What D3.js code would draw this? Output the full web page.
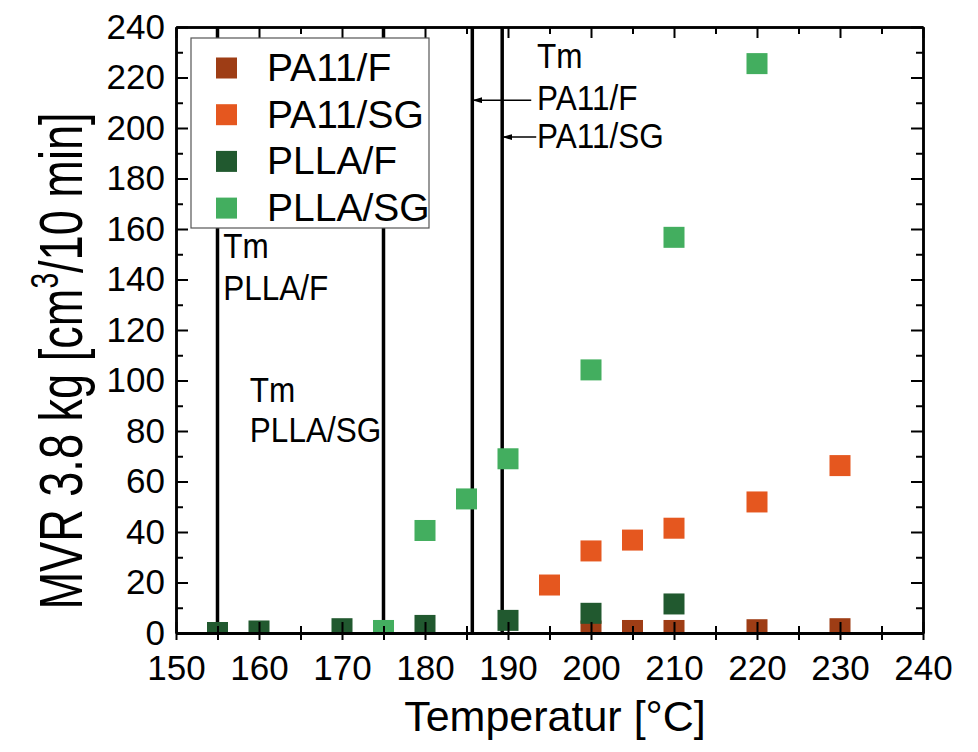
<!DOCTYPE html>
<html lang="de">
<head>
<meta charset="UTF-8">
<title>MVR vs Temperatur</title>
<script src="https://d3js.org/d3.v7.min.js"></script>
<style>
  body { margin: 0; background: #fff; }
  svg { display: block; font-family: 'Liberation Sans', Arial, sans-serif; }
</style>
</head>
<body>
<svg id="chart" width="978" height="752"></svg>
<script>
const seriesNames = ["PA11/F", "PA11/SG", "PLLA/F", "PLLA/SG"];
const seriesColors = ["#9e3d15", "#e5571f", "#21592f", "#43ae5f"];

const pa11fTemp  = [200, 205, 210, 220, 230];
const pa11fMvr   = [0.8, 1.0, 1.0, 1.3, 1.7];
const pa11sgTemp = [195, 200, 205, 210, 220, 230];
const pa11sgMvr  = [19.0, 32.5, 36.8, 41.5, 51.9, 66.3];
const pllafTemp  = [155, 160, 170, 180, 190, 200, 210];
const pllafMvr   = [0.2, 0.8, 1.7, 3.0, 5.0, 7.8, 11.5];
const pllasgTemp = [175, 180, 185, 190, 200, 210, 220];
const pllasgMvr  = [1.0, 40.6, 53.1, 69.0, 104.2, 156.7, 225.5];

// Schmelztemperaturen
const tmLines = [155, 175, 185.7, 189.3];

const xMajorTicks = d3.range(150, 241, 10);
const xMinorTicks = d3.range(155, 240, 10);
const yMajorTicks = d3.range(0, 241, 20);
const yMinorTicks = d3.range(10, 240, 20);

// Beschriftungen der Tm-Linien: [temp, wert, text]
const tmLabels = [
  [155.7, 148.5, "Tm"], [155.7, 131.9, "PLLA/F"],
  [158.9, 91.5, "Tm"], [158.9, 75.6, "PLLA/SG"],
  [193.5, 223.8, "Tm"], [193.5, 207.1, "PA11/F"], [193.5, 192.1, "PA11/SG"]
];
// Pfeile: [von temp, nach temp, wert]
const tmArrows = [[192.8, 185.7, 211.0], [193.4, 189.3, 196.4]];

const series = [
  { temp: pa11fTemp, mvr: pa11fMvr },
  { temp: pa11sgTemp, mvr: pa11sgMvr },
  { temp: pllafTemp, mvr: pllafMvr },
  { temp: pllasgTemp, mvr: pllasgMvr }
];

const svg = d3.select("#chart");
const x = d3.scaleLinear().domain([150, 240]).range([176, 923]);
const y = d3.scaleLinear().domain([0, 240]).range([633, 27]);
const [x0, x1] = x.range();
const [y0, y1] = y.range();

svg.append("defs").append("clipPath").attr("id", "plotclip")
  .append("rect").attr("x", x0).attr("y", y1).attr("width", x1 - x0).attr("height", y0 - y1);

const arrow = svg.select("defs").append("marker")
  .attr("id", "arrowhead").attr("viewBox", "0 0 10 6")
  .attr("refX", 10).attr("refY", 3)
  .attr("markerWidth", 10).attr("markerHeight", 6)
  .attr("markerUnits", "userSpaceOnUse").attr("orient", "auto");
arrow.append("path").attr("d", "M0,0 L10,3 L0,6 Z").attr("fill", "#000");

// Tm Linien
svg.append("g").selectAll("line").data(tmLines).enter().append("line")
  .attr("x1", d => x(d)).attr("x2", d => x(d))
  .attr("y1", y0).attr("y2", y1)
  .attr("stroke", "#000").attr("stroke-width", 3.5);

// Punkte
const pts = svg.append("g").attr("clip-path", "url(#plotclip)");
const sq = 21;
series.forEach((s, i) => {
  pts.selectAll(null).data(s.temp).enter().append("rect")
    .attr("x", d => x(d) - sq / 2)
    .attr("y", (d, j) => y(s.mvr[j]) - sq / 2)
    .attr("width", sq).attr("height", sq)
    .attr("fill", seriesColors[i]);
});

// Achsen
function styleAxis(g) {
  g.select(".domain").attr("stroke", "#000").attr("stroke-width", 2.5);
  g.selectAll(".tick line").attr("stroke", "#000").attr("stroke-width", 2);
  g.selectAll("text").attr("fill", "#000").attr("font-size", 35)
    .attr("font-family", "'Liberation Sans', Arial, sans-serif");
}

svg.append("g").attr("transform", `translate(0,${y0})`)
  .call(d3.axisBottom(x).tickValues(xMajorTicks).tickSize(7).tickSizeOuter(0).tickPadding(15).tickFormat(d3.format("d")))
  .call(styleAxis);
svg.append("g").attr("transform", `translate(0,${y0})`)
  .call(d3.axisBottom(x).tickValues(xMajorTicks).tickSize(-11).tickSizeOuter(0).tickFormat(""))
  .call(styleAxis);
svg.append("g").attr("transform", `translate(0,${y0})`)
  .call(d3.axisBottom(x).tickValues(xMinorTicks).tickSize(7).tickSizeOuter(0).tickFormat(""))
  .call(styleAxis);
svg.append("g").attr("transform", `translate(0,${y0})`)
  .call(d3.axisBottom(x).tickValues(xMinorTicks).tickSize(-7).tickSizeOuter(0).tickFormat(""))
  .call(styleAxis);

svg.append("g").attr("transform", `translate(0,${y1})`)
  .call(d3.axisTop(x).tickValues(xMajorTicks).tickSize(-11).tickSizeOuter(0).tickFormat(""))
  .call(styleAxis);
svg.append("g").attr("transform", `translate(0,${y1})`)
  .call(d3.axisTop(x).tickValues(xMinorTicks).tickSize(-7).tickSizeOuter(0).tickFormat(""))
  .call(styleAxis);

svg.append("g").attr("transform", `translate(${x0},0)`)
  .call(d3.axisLeft(y).tickValues(yMajorTicks).tickSize(-12).tickSizeOuter(0).tickPadding(11).tickFormat(d3.format("d")))
  .call(styleAxis);
svg.append("g").attr("transform", `translate(${x0},0)`)
  .call(d3.axisLeft(y).tickValues(yMinorTicks).tickSize(-7).tickSizeOuter(0).tickFormat(""))
  .call(styleAxis);

svg.append("g").attr("transform", `translate(${x1},0)`)
  .call(d3.axisRight(y).tickValues(yMajorTicks).tickSize(-12).tickSizeOuter(0).tickFormat(""))
  .call(styleAxis);
svg.append("g").attr("transform", `translate(${x1},0)`)
  .call(d3.axisRight(y).tickValues(yMinorTicks).tickSize(-7).tickSizeOuter(0).tickFormat(""))
  .call(styleAxis);

// Tm Beschriftungen
svg.append("g").selectAll("text").data(tmLabels).enter().append("text")
  .attr("transform", d => `translate(${x(d[0])},${y(d[1])}) scale(0.9,1)`)
  .attr("font-size", 35).attr("fill", "#000")
  .text(d => d[2]);

svg.append("g").selectAll("line").data(tmArrows).enter().append("line")
  .attr("x1", d => x(d[0])).attr("x2", d => x(d[1]))
  .attr("y1", d => y(d[2])).attr("y2", d => y(d[2]))
  .attr("stroke", "#000").attr("stroke-width", 1.5)
  .attr("marker-end", "url(#arrowhead)");

// Legende
const legend = svg.append("g").attr("transform", "translate(191,38)");
legend.append("rect").attr("width", 238).attr("height", 190)
  .attr("fill", "#fff").attr("stroke", "#555").attr("stroke-width", 1.2);
const rows = legend.selectAll("g.row").data(seriesNames).enter().append("g")
  .attr("class", "row")
  .attr("transform", (d, i) => `translate(0,${30 + i * 46.7})`);
rows.append("rect").attr("x", 25).attr("y", -10.5).attr("width", sq).attr("height", sq)
  .attr("fill", (d, i) => seriesColors[i]);
rows.append("text").attr("x", 76).attr("y", 13)
  .attr("font-size", 39).attr("fill", "#000").text(d => d);

// Achsentitel
svg.append("text")
  .attr("x", 555).attr("y", 731)
  .attr("text-anchor", "middle").attr("font-size", 43).attr("fill", "#000")
  .text("Temperatur [°C]");

const ytitle = svg.append("text")
  .attr("transform", "translate(82,361) rotate(-90) scale(0.74,1)")
  .attr("text-anchor", "middle").attr("font-size", 61).attr("fill", "#000");
ytitle.append("tspan").text("MVR 3.8 kg [cm");
ytitle.append("tspan").attr("font-size", 38).attr("dy", -24).text("3");
ytitle.append("tspan").attr("dy", 24).text("/10 min]");
</script>
</body>
</html>
